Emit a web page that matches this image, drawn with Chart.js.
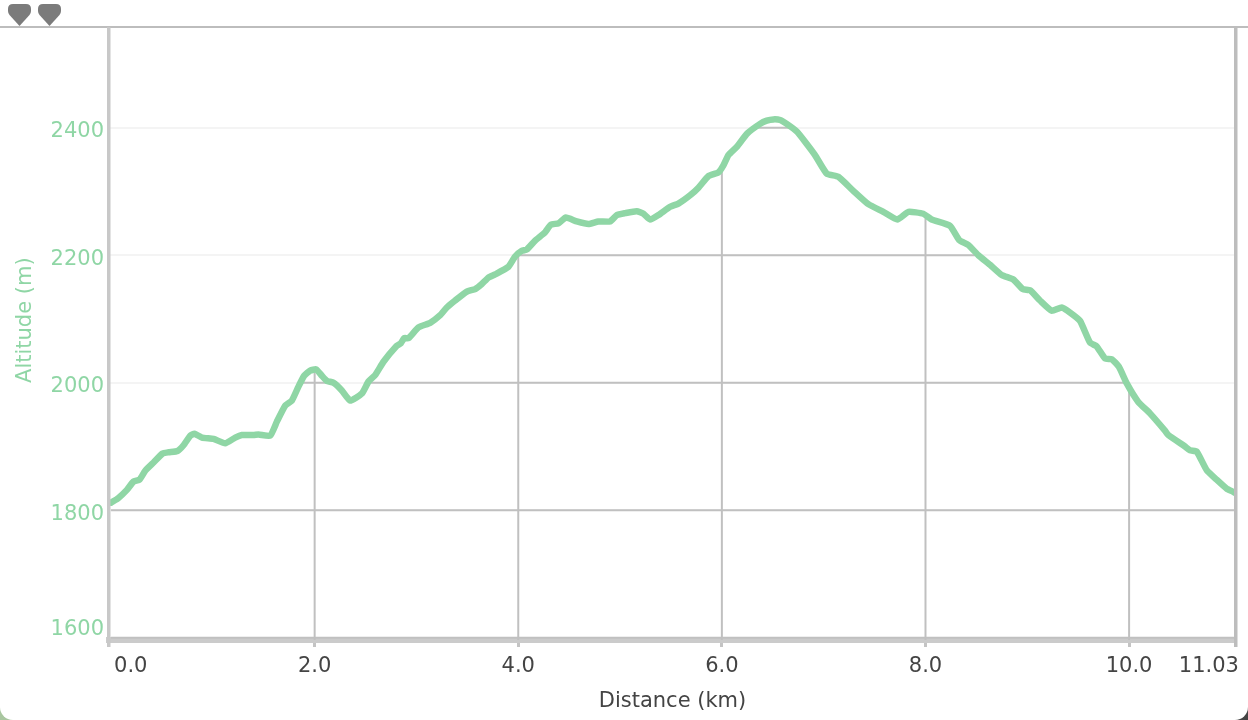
<!DOCTYPE html>
<html>
<head>
<meta charset="utf-8">
<title>Altitude profile</title>
<script src="https://cdn.jsdelivr.net/npm/chart.js@4"></script>
<style>
html { background: linear-gradient(90deg, #a9c6a0 0%, #a9c6a0 50%, #444 50%, #444 100%); }
body { margin: 0; width: 1248px; height: 720px; overflow: hidden; }
#wrap { position: relative; width: 1248px; height: 720px; background: #fff; border-radius: 0 0 13px 13px; overflow: hidden; }
.mark { position: absolute; top: 4px; width: 23px; height: 22px; }
canvas { display: block; }
</style>
</head>
<body>
<div id="wrap">
  <canvas id="myChart" width="1248" height="720"></canvas>
  <svg class="mark" style="left:8px" viewBox="0 0 23 22"><path d="M5 0H18Q23 0 23 5V7Q23 9 21.5 11L11.5 22L1.5 11Q0 9 0 7V5Q0 0 5 0Z" fill="#7b7b7b"/></svg>
  <svg class="mark" style="left:38px" viewBox="0 0 23 22"><path d="M5 0H18Q23 0 23 5V7Q23 9 21.5 11L11.5 22L1.5 11Q0 9 0 7V5Q0 0 5 0Z" fill="#7b7b7b"/></svg>
</div>
<script>
const distance = [0, 0.01, 0.07, 0.156, 0.22, 0.28, 0.336, 0.418, 0.506, 0.565, 0.653, 0.712, 0.778, 0.82, 0.893, 1.007, 1.121, 1.22, 1.285, 1.4, 1.449, 1.563, 1.629, 1.711, 1.776, 1.841, 1.897, 1.956, 2.015, 2.071, 2.12, 2.185, 2.267, 2.349, 2.464, 2.529, 2.594, 2.676, 2.8, 2.847, 2.879, 2.922, 3.02, 3.135, 3.233, 3.298, 3.38, 3.495, 3.577, 3.642, 3.707, 3.773, 3.904, 3.969, 4.035, 4.084, 4.166, 4.264, 4.32, 4.395, 4.467, 4.575, 4.69, 4.787, 4.902, 4.968, 5.05, 5.164, 5.23, 5.295, 5.377, 5.492, 5.573, 5.688, 5.77, 5.868, 5.966, 6.015, 6.064, 6.146, 6.25, 6.375, 6.441, 6.506, 6.572, 6.637, 6.736, 6.817, 6.915, 7.03, 7.144, 7.291, 7.439, 7.586, 7.724, 7.832, 7.979, 8.06, 8.241, 8.33, 8.421, 8.519, 8.634, 8.749, 8.863, 8.955, 9.027, 9.125, 9.24, 9.338, 9.42, 9.518, 9.616, 9.682, 9.764, 9.83, 9.9, 9.977, 10.09, 10.205, 10.352, 10.385, 10.549, 10.598, 10.664, 10.762, 10.86, 10.958, 11.023, 11.03];
const altitude = [1812, 1813, 1819, 1832, 1845, 1848, 1862, 1875, 1889, 1891, 1893, 1902, 1917, 1920, 1914, 1912, 1905, 1914, 1918, 1918, 1919, 1917, 1939, 1964, 1972, 1994, 2011, 2019, 2021, 2011, 2003, 2000, 1988, 1972, 1983, 2002, 2012, 2033, 2057, 2062, 2070, 2070, 2087, 2094, 2106, 2118, 2129, 2143, 2147, 2155, 2165, 2170, 2182, 2198, 2207, 2209, 2223, 2236, 2248, 2250, 2259, 2253, 2249, 2253, 2253, 2263, 2266, 2269, 2265, 2256, 2263, 2276, 2281, 2294, 2306, 2324, 2330, 2341, 2357, 2370, 2391, 2406, 2411, 2413, 2412, 2406, 2394, 2378, 2357, 2328, 2323, 2301, 2280, 2268, 2256, 2268, 2265, 2256, 2246, 2224, 2216, 2200, 2185, 2169, 2162, 2147, 2145, 2129, 2113, 2118, 2110, 2097, 2063, 2057, 2038, 2037, 2025, 1999, 1970, 1952, 1925, 1918, 1900, 1894, 1892, 1863, 1848, 1834, 1829, 1828];
const xTicks = [0, 2, 4, 6, 8, 10, 11.03];
const xLabels = ["0.0", "2.0", "4.0", "6.0", "8.0", "10.0", "11.03"];
const yTicks = [1600, 1800, 2000, 2200, 2400];

const green = "#8fd6a5";
const gridDark = "#c0c0c0";
const frame = "#bdbdbd";
const fontName = "'DejaVu Sans', Verdana, sans-serif";

// dark grid only shows below the curve, above it the lines are washed out
const underCurveGrid = {
    id: "underCurveGrid",
    beforeDatasetsDraw(chart) {
        const ctx = chart.ctx;
        const pts = chart.getDatasetMeta(0).data;
        const area = chart.chartArea;
        const x = chart.scales.x;
        const y = chart.scales.y;
        ctx.save();
        ctx.beginPath();
        ctx.moveTo(pts[0].x, area.bottom);
        pts.forEach(p => ctx.lineTo(p.x, p.y));
        ctx.lineTo(pts[pts.length - 1].x, area.bottom);
        ctx.closePath();
        ctx.clip();
        ctx.strokeStyle = gridDark;
        ctx.lineWidth = 2;
        xTicks.slice(1, -1).forEach(v => {
            const px = x.getPixelForValue(v);
            ctx.beginPath();
            ctx.moveTo(px, area.top);
            ctx.lineTo(px, area.bottom);
            ctx.stroke();
        });
        yTicks.forEach(v => {
            const py = y.getPixelForValue(v);
            ctx.beginPath();
            ctx.moveTo(area.left, py);
            ctx.lineTo(area.right, py);
            ctx.stroke();
        });
        ctx.restore();
    }
};

// top and right edge, and the long left / right ends past the bottom axis
const frameLines = {
    id: "frameLines",
    afterDraw(chart) {
        const ctx = chart.ctx;
        const a = chart.chartArea;
        ctx.save();
        ctx.fillStyle = frame;
        ctx.fillRect(0, a.top - 1, chart.width, 2);
        ctx.fillRect(a.right - 2, a.top, 3.5, a.bottom + 7 - a.top);
        ctx.fillStyle = "#c8c8c8";
        ctx.fillRect(a.left - 2, a.top, 3.5, a.bottom + 7 - a.top);
        ctx.restore();
    }
};

// first and last labels sit a little off their ticks in the reference
const nudgeLabels = {
    id: "nudgeLabels",
    beforeDraw(chart) {
        const xItems = chart.scales.x.getLabelItems();
        xItems[0].options.translation[0] += 3;
        xItems[xItems.length - 1].options.translation[0] += 5;
        const yItems = chart.scales.y.getLabelItems();
        yItems.forEach(it => { it.options.translation[1] += 4; });
        yItems[0].options.translation[1] -= 12;
    }
};

new Chart("myChart", {
    type: "line",
    data: {
        labels: distance,
        datasets: [{
            label: "Altitude",
            data: distance.map((d, i) => ({ x: d, y: altitude[i] })),
            borderColor: green,
            borderWidth: 6.5,
            borderJoinStyle: "round",
            borderCapStyle: "round",
            tension: 0.15,
            pointRadius: 0,
            fill: false
        }]
    },
    options: {
        responsive: false,
        animation: false,
        layout: { padding: { top: 27, right: 12, left: 0, bottom: 0 } },
        plugins: { legend: { display: false }, tooltip: { enabled: false } },
        scales: {
            x: {
                type: "linear",
                min: -0.02,
                max: 11.05,
                afterFit: s => { s.height = 80; },
                afterBuildTicks: s => { s.ticks = xTicks.map(v => ({ value: v })); },
                border: { color: "#cbcbcb", width: 6 },
                grid: {
                    drawOnChartArea: false,
                    tickLength: 7,
                    tickWidth: 3,
                    tickColor: c => (c.index === 0 || c.index === xTicks.length - 1) ? "transparent" : "#c4c4c4"
                },
                ticks: {
                    autoSkip: false,
                    maxRotation: 0,
                    align: "inner",
                    padding: 7,
                    color: "#444",
                    font: { family: fontName, size: 21 },
                    callback: (v, i) => xLabels[i]
                },
                title: {
                    display: true,
                    text: "Distance (km)",
                    color: "#444",
                    font: { family: fontName, size: 21 },
                    padding: { top: 0, bottom: 6 }
                }
            },
            y: {
                min: 1596.6,
                max: 2557.9,
                afterFit: s => { s.width = 109; },
                afterBuildTicks: s => { s.ticks = yTicks.map(v => ({ value: v })); },
                border: { display: false },
                grid: { color: "#f4f4f4", lineWidth: 2, drawTicks: false },
                ticks: {
                    padding: 5,
                    color: green,
                    font: { family: fontName, size: 21 },
                    callback: v => String(v)
                },
                title: {
                    display: true,
                    text: "    Altitude (m)",
                    color: green,
                    font: { family: fontName, size: 21 },
                    padding: { top: 13, bottom: 0 }
                }
            }
        }
    },
    plugins: [underCurveGrid, frameLines, nudgeLabels]
});
</script>
</body>
</html>
